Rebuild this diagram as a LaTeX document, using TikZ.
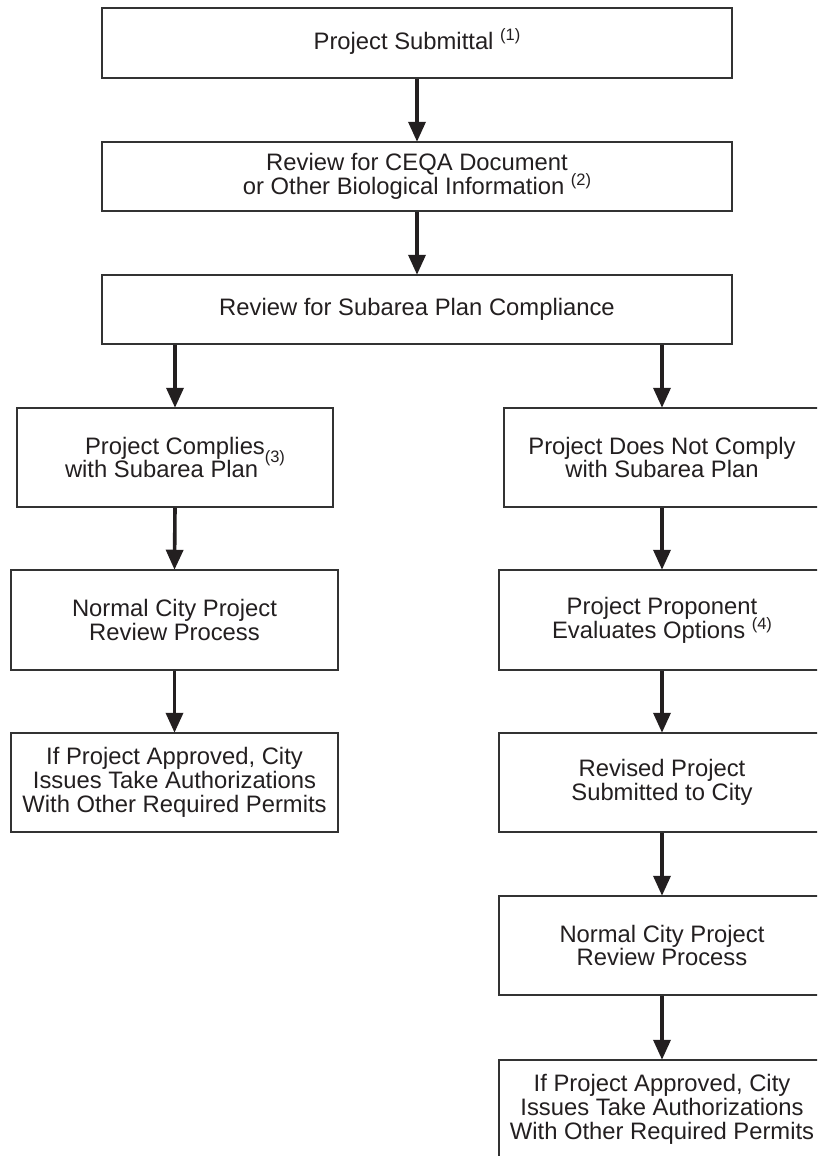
\documentclass[tikz,border=0pt]{standalone}
\usepackage{fontspec}
\setmainfont{Liberation Sans}
\usetikzlibrary{arrows.meta}
\definecolor{ink}{HTML}{231F20}
\definecolor{edge}{HTML}{333333}
\newcommand\fnm[2]{\raisebox{#1}[0pt][0pt]{\fontsize{16.5}{16.5}\selectfont(#2)}}
\begin{document}
\begin{tikzpicture}[x=1pt,y=-1pt,
  box/.style={draw=edge, line width=1.5pt, fill=white, inner sep=0pt, align=center,
    text=ink, font=\fontsize{23.8}{23.8}\selectfont},
  flow/.style={draw=ink, line width=3.6pt, -{Triangle[width=17pt,length=20pt]}, shorten >=-0.5pt}]
\useasboundingbox (0,0) rectangle (817,1156);
\fill[white] (0,0) rectangle (817,1156);
\clip (0,0) rectangle (817,1156);

\node[box, minimum width=630pt, minimum height=70pt] (b1) at (417,43)
  {Project Submittal \fnm{9pt}{1}};
\node[box, minimum width=630pt, minimum height=69pt] (b2) at (417,176.5)
  {Review for CEQA Document\\or Other Biological Information \fnm{9pt}{2}};
\node[box, minimum width=630pt, minimum height=69pt] (b3) at (417,309.5)
  {Review for Subarea Plan Compliance};

\node[box, minimum width=316pt, minimum height=99pt] (l1) at (175,457.5)
  {Project Complies\\with Subarea Plan \fnm{15pt}{3}};
\node[box, minimum width=327pt, minimum height=100pt] (l2) at (174.5,620)
  {Normal City Project\\Review Process};
\node[box, minimum width=327pt, minimum height=99pt] (l3) at (174.5,782.5)
  {If Project Approved, City\\Issues Take Authorizations\\With Other Required Permits};

\node[box, minimum width=316pt, minimum height=99pt] (r1) at (662,457.5)
  {Project Does Not Comply\\with Subarea Plan};
\node[box, minimum width=326pt, minimum height=100pt] (r2) at (662,620)
  {Project Proponent\\Evaluates Options \fnm{9pt}{4}};
\node[box, minimum width=326pt, minimum height=99pt] (r3) at (662,782.5)
  {Revised Project\\Submitted to City};
\node[box, minimum width=326pt, minimum height=99pt] (r4) at (662,945.5)
  {Normal City Project\\Review Process};
\node[box, minimum width=326pt, minimum height=99pt] (r5) at (662,1109.5)
  {If Project Approved, City\\Issues Take Authorizations\\With Other Required Permits};

\draw[flow] (b1.south) -- (b2.north);
\draw[flow] (b2.south) -- (b3.north);
\draw[flow] (b3.south -| l1.north) -- (l1.north);
\draw[flow] (b3.south -| r1.north) -- (r1.north);
\draw[flow] (l1.south) -- (l2.north);
\draw[flow] (l2.south) -- (l3.north);
\draw[flow] (r1.south) -- (r2.north);
\draw[flow] (r2.south) -- (r3.north);
\draw[flow] (r3.south) -- (r4.north);
\draw[flow] (r4.south) -- (r5.north);
\end{tikzpicture}
\end{document}
